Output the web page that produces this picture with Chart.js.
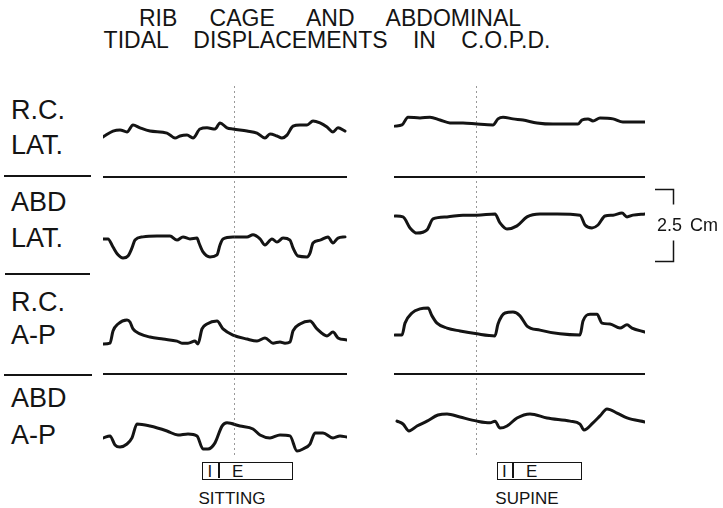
<!DOCTYPE html>
<html><head><meta charset="utf-8">
<script src="https://cdn.jsdelivr.net/npm/chart.js@4.4.1/dist/chart.umd.min.js"></script>
<style>
body{margin:0;background:#fff;width:723px;height:508px;position:relative;overflow:hidden;font-family:"Liberation Sans",Arial,sans-serif;color:#141414}
canvas{position:absolute}
.title{position:absolute;text-align:center;font-size:23px;line-height:23px;white-space:nowrap}
.lbl{position:absolute;left:11px;font-size:27px;line-height:27px;white-space:nowrap}
.sep{position:absolute;height:2px;background:#141414}
.box{position:absolute;border:1.7px solid #141414;box-sizing:border-box;font-size:17px;line-height:17px}
.box span{position:absolute;top:0px}
.post{position:absolute;font-size:17px;line-height:17px;white-space:nowrap;transform:translateX(-50%)}
</style></head><body>
<script>
// ---------- DATA ----------
const TITLE_LINES = ["RIB CAGE AND ABDOMINAL", "TIDAL DISPLACEMENTS IN C.O.P.D."];
const ROW_LABELS = [["R.C.", "LAT."], ["ABD", "LAT."], ["R.C.", "A-P"], ["ABD", "A-P"]];
const POSTURES = ["SITTING", "SUPINE"];
const BREATH_PHASES = ["I", "E"];
const SCALE_BAR_CM = 2.5;
// event marker time (s) in each posture record
const MARKER_T = [5.24, 3.28];

// [time s, displacement cm]
const sittingRcLat = [[0,-0.34],[0.4,-0.14],[0.68,-0.10],[0.96,-0.17],[1.2,0.07],[1.48,-0.03],[1.88,-0.14],[2.56,-0.21],[2.88,-0.38],[3.08,-0.31],[3.36,-0.28],[3.6,-0.38],[3.88,-0.07],[4.16,-0.03],[4.48,-0.07],[4.68,0.14],[4.96,-0.03],[5.2,-0.07],[5.76,-0.14],[6.16,-0.21],[6.48,-0.38],[6.68,-0.24],[6.96,-0.31],[7.16,-0.38],[7.36,-0.28],[7.6,0.03],[7.88,0.07],[8.16,0.07],[8.4,0.21],[8.68,0.14],[8.96,0.0],[9.2,-0.17],[9.4,-0.03],[9.68,-0.14]];
const sittingAbdLat = [[0,-0.48],[0.2,-0.48],[0.4,-0.76],[0.6,-1.03],[0.8,-1.14],[1.0,-1.07],[1.16,-0.79],[1.28,-0.52],[1.6,-0.41],[2.16,-0.38],[2.68,-0.38],[2.96,-0.52],[3.2,-0.41],[3.48,-0.48],[3.76,-0.45],[3.84,-0.62],[4.0,-0.93],[4.28,-1.10],[4.56,-1.03],[4.68,-0.69],[4.8,-0.48],[5.2,-0.41],[5.76,-0.41],[6.0,-0.34],[6.28,-0.48],[6.48,-0.69],[6.76,-0.48],[6.96,-0.59],[7.2,-0.45],[7.48,-0.52],[7.6,-0.79],[7.8,-1.07],[8.16,-1.10],[8.28,-0.97],[8.4,-0.62],[8.68,-0.52],[9.0,-0.41],[9.2,-0.62],[9.4,-0.45],[9.68,-0.41]];
const sittingRcAp = [[0,-0.69],[0.28,-0.66],[0.4,-0.24],[0.6,0.0],[0.96,0.14],[1.08,0.07],[1.2,-0.17],[1.48,-0.34],[1.88,-0.45],[2.4,-0.52],[2.96,-0.59],[3.16,-0.66],[3.4,-0.66],[3.68,-0.59],[3.8,-0.69],[3.96,-0.17],[4.16,0.0],[4.56,0.10],[4.8,-0.17],[5.2,-0.38],[5.76,-0.52],[6.16,-0.59],[6.48,-0.48],[6.8,-0.66],[7.08,-0.62],[7.28,-0.66],[7.48,-0.62],[7.6,-0.24],[7.88,0.0],[8.28,0.10],[8.56,-0.17],[8.96,-0.41],[9.2,-0.28],[9.4,-0.48],[9.76,-0.55]];
const sittingAbdAp = [[0,-0.55],[0.28,-0.48],[0.48,-0.79],[0.68,-0.86],[0.96,-0.76],[1.16,-0.55],[1.36,-0.07],[1.88,-0.14],[2.56,-0.31],[3.0,-0.45],[3.4,-0.41],[3.76,-0.48],[4.0,-0.93],[4.2,-0.93],[4.48,-0.72],[4.76,-0.14],[4.96,-0.03],[5.48,-0.14],[6.0,-0.24],[6.28,-0.45],[6.68,-0.55],[7.08,-0.45],[7.48,-0.48],[7.76,-1.0],[8.0,-0.93],[8.28,-0.76],[8.48,-0.38],[8.8,-0.38],[9.2,-0.55],[9.48,-0.48],[9.76,-0.52]];
const supineRcLat = [[0.04,0.03],[0.32,0.07],[0.56,0.34],[1.04,0.31],[1.44,0.34],[1.84,0.24],[2.24,0.14],[2.76,0.14],[3.32,0.10],[3.96,0.07],[4.16,0.28],[4.36,0.34],[4.76,0.28],[5.16,0.24],[5.72,0.14],[6.36,0.10],[7.04,0.10],[7.36,0.10],[7.52,0.24],[7.76,0.28],[7.96,0.21],[8.24,0.31],[8.76,0.28],[9.16,0.17],[9.56,0.17],[10.04,0.17]];
const supineAbdLat = [[0.04,0.31],[0.36,0.28],[0.64,-0.10],[0.92,-0.28],[1.32,-0.17],[1.56,0.21],[2.12,0.28],[2.76,0.34],[3.32,0.34],[4.04,0.38],[4.24,0.07],[4.52,-0.14],[4.92,-0.03],[5.32,0.28],[5.84,0.38],[6.52,0.38],[7.44,0.34],[7.64,0.0],[7.92,-0.10],[8.16,0.0],[8.44,0.31],[8.76,0.34],[9.12,0.41],[9.32,0.28],[9.56,0.34],[10.04,0.38]];
const supineRcAp = [[0.04,-0.38],[0.32,-0.38],[0.44,0.03],[0.72,0.38],[1.04,0.52],[1.36,0.55],[1.52,0.28],[1.72,0.03],[2.12,-0.14],[2.64,-0.24],[3.32,-0.34],[4.04,-0.41],[4.16,0.0],[4.44,0.38],[4.76,0.41],[5.04,0.28],[5.32,-0.07],[5.84,-0.21],[6.64,-0.34],[7.44,-0.38],[7.56,0.10],[7.84,0.34],[8.12,0.34],[8.32,0.03],[8.64,0.0],[9.04,-0.14],[9.32,-0.03],[9.52,-0.14],[10.04,-0.28]];
const supineAbdAp = [[0.12,0.03],[0.36,-0.07],[0.6,-0.31],[0.92,-0.14],[1.32,0.03],[1.76,0.24],[2.12,0.28],[2.64,0.17],[3.32,0.03],[3.84,-0.03],[4.04,0.03],[4.24,-0.21],[4.52,-0.14],[4.92,0.14],[5.44,0.28],[6.12,0.14],[7.04,0.03],[7.44,-0.07],[7.6,-0.28],[7.96,-0.03],[8.24,0.21],[8.52,0.45],[8.92,0.31],[9.32,0.14],[10.04,0.0]];

const TRACES = [
  [sittingRcLat, sittingAbdLat, sittingRcAp, sittingAbdAp],
  [supineRcLat, supineAbdLat, supineRcAp, supineAbdAp]
];

// ---------- LAYOUT ----------
const ROW_TOPS = [78, 176, 275, 373];
const ROW_H = 98;
const COL_LEFT = [103, 394];
const COL_W = [244, 251];
const X_MAX = [9.76, 10.04];
const Y_HALF = 1.69;
const INK = '#141414';

function el(cls, text, style){
  const d = document.createElement('div');
  d.className = cls; if (text != null) d.textContent = text;
  Object.assign(d.style, style || {});
  document.body.appendChild(d); return d;
}

// Title
el('title', TITLE_LINES[0], {left:'0px', width:'660px', top:'7px', wordSpacing:'26px'});
el('title', TITLE_LINES[1], {left:'0px', width:'654px', top:'29px', wordSpacing:'19px'});

// Row labels
const LABEL_CAP_TOPS = [[100,135],[192,228],[292,325],[388,425]];
ROW_LABELS.forEach((pair, i) => {
  pair.forEach((t, j) => el('lbl', t, {top:(LABEL_CAP_TOPS[i][j]-3.5)+'px'}));
});
[[176,4,91],[274,5,90],[375,4,92]].forEach(([y,x0,x1]) => el('sep', null, {top:(y-1)+'px', left:x0+'px', width:(x1-x0)+'px'}));

// Breath boxes and posture labels
const BOXES = [{l:202, r:293, d:219, cx:232}, {l:497, r:582, d:513, cx:527}];
BOXES.forEach((b, i) => {
  const box = el('box', null, {left:b.l+'px', top:'462px', width:(b.r-b.l)+'px', height:'18px'});
  const div = document.createElement('div');
  Object.assign(div.style, {position:'absolute', left:(b.d-b.l-1.7)+'px', top:'0px', width:'1.7px', height:'15px', background:INK});
  box.appendChild(div);
  const s1 = document.createElement('span'); s1.textContent = BREATH_PHASES[0];
  s1.style.left = ((b.d-b.l)/2 - 4)+'px'; box.appendChild(s1);
  const s2 = document.createElement('span'); s2.textContent = BREATH_PHASES[1];
  s2.style.left = (b.d-b.l+12)+'px'; box.appendChild(s2);
  el('post', POSTURES[i], {left:b.cx+'px', top:'490px'});
});

// Plugin: separators, event marker, scale bar
const decor = {
  id: 'decor',
  afterDatasetsDraw(chart, args, o){
    const {ctx, chartArea:a, scales:{x, y}} = chart;
    ctx.save();
    const mx = Math.round(x.getPixelForValue(o.marker)) + 0.5;
    ctx.strokeStyle = 'rgba(70,70,70,0.55)'; ctx.lineWidth = 1; ctx.setLineDash([2,3]);
    ctx.beginPath(); ctx.moveTo(mx, a.top + (o.mTop||0)); ctx.lineTo(mx, a.bottom - (o.mBot||0)); ctx.stroke();
    ctx.setLineDash([]);
    if (o.sepTop){
      ctx.strokeStyle = INK; ctx.lineWidth = 2;
      ctx.beginPath(); ctx.moveTo(a.left, a.top + 1); ctx.lineTo(a.right, a.top + 1); ctx.stroke();
    }
    if (o.scaleBar){
      const yt = Math.round(y.getPixelForValue(SCALE_BAR_CM/2)) + 0.5;
      const yb = Math.round(y.getPixelForValue(-SCALE_BAR_CM/2)) + 0.5;
      const x0 = a.right + 10, x1 = a.right + 28.5;
      ctx.strokeStyle = INK; ctx.lineWidth = 1.5;
      ctx.beginPath();
      ctx.moveTo(x0, yt); ctx.lineTo(x1, yt); ctx.lineTo(x1, yt + 15);
      ctx.moveTo(x1, yb - 21); ctx.lineTo(x1, yb); ctx.lineTo(x0, yb);
      ctx.stroke();
      const yc = y.getPixelForValue(0) + 1;
      ctx.fillStyle = INK; ctx.font = '18px "Liberation Sans", Arial, sans-serif';
      ctx.textBaseline = 'middle';
      ctx.fillText(String(SCALE_BAR_CM), a.right + 12, yc);
      ctx.fillText('Cm', a.right + 45, yc);
    }
    ctx.restore();
  }
};

for (let c = 0; c < 2; c++){
  for (let r = 0; r < 4; r++){
    const withBar = (c === 1 && r === 1);
    const cv = document.createElement('canvas');
    const w = COL_W[c] + (withBar ? 78 : 0);
    cv.width = w; cv.height = ROW_H;
    cv.style.left = COL_LEFT[c] + 'px'; cv.style.top = ROW_TOPS[r] + 'px';
    cv.style.width = w + 'px'; cv.style.height = ROW_H + 'px';
    document.body.appendChild(cv);
    new Chart(cv, {
      type: 'line',
      data: { datasets: [{
        data: TRACES[c][r].map(p => ({x:p[0], y:p[1]})),
        borderColor: INK, borderWidth: 3, pointRadius: 0,
        cubicInterpolationMode: 'monotone', borderCapStyle: 'round', borderJoinStyle: 'round', fill: false
      }]},
      options: {
        responsive: false, animation: false, devicePixelRatio: 1,
        layout: { padding: { left: 0, right: withBar ? 78 : 0, top: 0, bottom: 0 } },
        plugins: {
          legend: { display: false }, tooltip: { enabled: false },
          decor: { marker: MARKER_T[c], sepTop: (r === 1 || r === 3), scaleBar: withBar,
                   mTop: r === 0 ? 8 : 0, mBot: r === 3 ? 16 : 0 }
        },
        scales: {
          x: { type: 'linear', display: false, min: 0, max: X_MAX[c] },
          y: { display: false, min: -Y_HALF, max: Y_HALF }
        }
      },
      plugins: [decor]
    });
  }
}
</script>
</body></html>
